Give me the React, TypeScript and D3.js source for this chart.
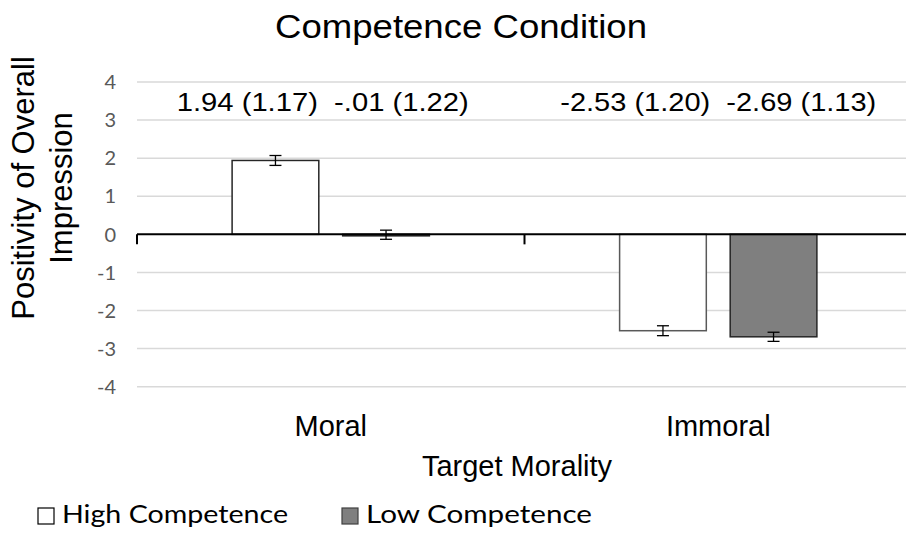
import React from "react";
import * as d3 from "d3";

const categories = ["Moral", "Immoral"];
const series = ["High Competence", "Low Competence"];
const highValues = [1.94, -2.53];
const lowValues = [-0.01, -2.69];
const highErrors = [0.13, 0.13];
const lowErrors = [0.12, 0.12];
const valueLabels = ["1.94 (1.17)  -.01 (1.22)", "-2.53 (1.20)  -2.69 (1.13)"];
const yTicks = [4, 3, 2, 1, 0, -1, -2, -3, -4];
const title = "Competence Condition";
const yTitleLines = ["Positivity of Overall", "Impression"];
const xTitle = "Target Morality";

const W = 906;
const H = 533;
const plotLeft = 137;
const plotRight = 912;
const yTop = 82;
const yBottom = 386.7;

const fills = ["#ffffff", "#7f7f7f"];
const strokes = ["#262626", "#262626"];

export default function App() {
  const x0 = d3.scaleBand<string>().domain(categories).range([plotLeft, plotRight]).padding(0);
  const x1 = d3
    .scaleBand<string>()
    .domain(series)
    .range([0, x0.bandwidth()])
    .paddingInner(0.216)
    .paddingOuter(0.86);
  const y = d3.scaleLinear().domain([-4, 4]).range([yBottom, yTop]);

  const data = categories.flatMap((c, i) => [
    { cat: c, s: series[0], v: highValues[i], e: highErrors[i], k: 0 },
    { cat: c, s: series[1], v: lowValues[i], e: lowErrors[i], k: 1 },
  ]);

  const sans = "'Liberation Sans', Arial, sans-serif";
  const cal = "Lato, 'Open Sans', sans-serif";
  const labelWidths = [292, 316];

  return (
    <svg
      width={W}
      height={H}
      style={{ position: "fixed", left: 0, top: 0, background: "#fff" }}
    >
      <rect x={0} y={0} width={W} height={H} fill="#fff" />
      {yTicks
        .filter((t) => t !== 0)
        .map((t) => (
          <line
            key={t}
            x1={plotLeft}
            x2={plotRight}
            y1={y(t)}
            y2={y(t)}
            stroke="#d9d9d9"
            strokeWidth={1.5}
          />
        ))}
      {yTicks.map((t) => (
        <text
          key={"t" + t}
          x={116}
          y={y(t)}
          dy="0.36em"
          textAnchor="end"
          fontFamily={cal}
          fontSize={20}
          fill="#595959"
        >
          {t}
        </text>
      ))}
      {data.map((d, i) => {
        const bx = (x0(d.cat) as number) + (x1(d.s) as number);
        const y0 = y(0);
        const yv = y(d.v);
        const top = Math.min(y0, yv);
        const h = Math.max(Math.abs(yv - y0), 1.5);
        return (
          <rect
            key={"b" + i}
            x={bx}
            y={top}
            width={x1.bandwidth()}
            height={h}
            fill={fills[d.k]}
            stroke={d.cat === "Immoral" && d.k === 0 ? "#595959" : strokes[d.k]}
            strokeWidth={1.5}
          />
        );
      })}
      <line x1={plotLeft} x2={plotRight} y1={y(0)} y2={y(0)} stroke="#000" strokeWidth={2} />
      {categories.map((c) => (
        <line
          key={"ct" + c}
          x1={x0(c) as number}
          x2={x0(c) as number}
          y1={y(0)}
          y2={y(0) + 10}
          stroke="#000"
          strokeWidth={2}
        />
      ))}
      {data.map((d, i) => {
        const cx = (x0(d.cat) as number) + (x1(d.s) as number) + x1.bandwidth() / 2;
        const ya = y(d.v + d.e);
        const yb = y(d.v - d.e);
        return (
          <g key={"e" + i} stroke="#000" strokeWidth={1.3}>
            <line x1={cx} x2={cx} y1={ya} y2={yb} />
            <line x1={cx - 6} x2={cx + 6} y1={ya} y2={ya} />
            <line x1={cx - 6} x2={cx + 6} y1={yb} y2={yb} />
          </g>
        );
      })}
      {categories.map((c, i) => (
        <text
          key={"vl" + c}
          x={(x0(c) as number) + x0.bandwidth() / 2 - (i === 0 ? 8 : 0)}
          y={111}
          textAnchor="middle"
          fontFamily={sans}
          fontSize={25}
          fill="#000"
          textLength={labelWidths[i]}
          lengthAdjust="spacingAndGlyphs"
          style={{ whiteSpace: "pre" }}
        >
          {valueLabels[i]}
        </text>
      ))}
      {categories.map((c) => (
        <text
          key={"cl" + c}
          x={(x0(c) as number) + x0.bandwidth() / 2}
          y={436}
          textAnchor="middle"
          fontFamily={sans}
          fontSize={29}
          fill="#000"
        >
          {c}
        </text>
      ))}
      <text x={517} y={476} textAnchor="middle" fontFamily={sans} fontSize={29} fill="#000">
        {xTitle}
      </text>
      <text
        x={461}
        y={38}
        textAnchor="middle"
        fontFamily={sans}
        fontSize={33}
        fill="#000"
        textLength={372}
        lengthAdjust="spacingAndGlyphs"
      >
        {title}
      </text>
      {yTitleLines.map((l, i) => (
        <text
          key={"yt" + i}
          transform={`translate(${34 + i * 38},188) rotate(-90)`}
          textAnchor="middle"
          fontFamily={sans}
          fontSize={31}
          fill="#000"
        >
          {l}
        </text>
      ))}
      {series.map((s, i) => {
        const lx = i === 0 ? 38 : 342;
        return (
          <g key={"lg" + s}>
            <rect
              x={lx}
              y={508}
              width={16}
              height={16}
              fill={fills[i]}
              stroke={i === 0 ? "#000" : "#404040"}
              strokeWidth={1.2}
            />
            <text
              x={lx + 24}
              y={523}
              fontFamily={cal}
              fontSize={25}
              fill="#000"
              textLength={226}
              lengthAdjust="spacingAndGlyphs"
            >
              {s}
            </text>
          </g>
        );
      })}
    </svg>
  );
}
